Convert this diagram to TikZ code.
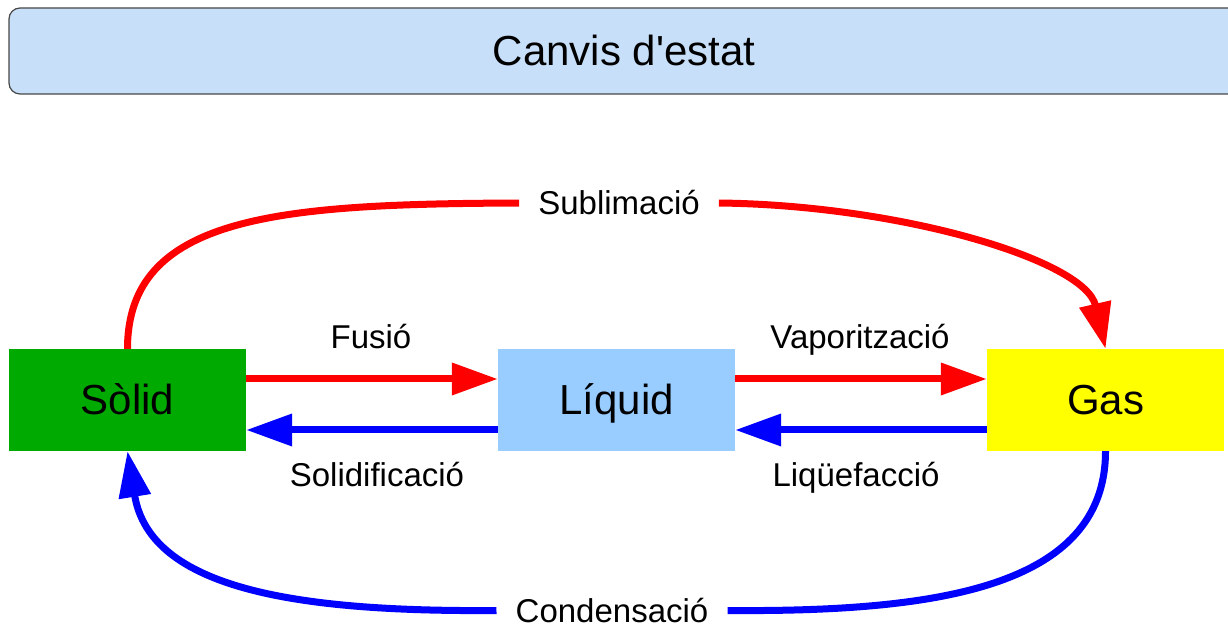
\documentclass[tikz,border=0pt]{standalone}
\usepackage{fontspec}
\setmainfont{Liberation Sans}
\usetikzlibrary{arrows.meta}
\definecolor{gsolid}{RGB}{0,170,0}
\definecolor{bliquid}{RGB}{153,204,255}
\definecolor{ygas}{RGB}{255,255,0}
\definecolor{titlefill}{RGB}{200,223,249}
\definecolor{titleborder}{RGB}{70,70,70}
\tikzset{
  statebox/.style={minimum width=237pt, minimum height=102pt, inner sep=0pt},
  boxtext/.style={anchor=base, font=\fontsize{42}{48}\selectfont},
  lbl/.style={font=\fontsize{33}{38}\selectfont, anchor=base, inner sep=0pt},
  gaplbl/.style={font=\fontsize{33}{38}\selectfont, anchor=base, inner xsep=19pt, inner ysep=0pt},
  redarr/.style={draw=red, line width=7pt, -{Triangle[length=46pt,width=31pt]}},
  bluearr/.style={draw=blue, line width=7pt, -{Triangle[length=46pt,width=31pt]}},
  redline/.style={draw=red, line width=7pt},
  blueline/.style={draw=blue, line width=7pt},
}
\begin{document}
\begin{tikzpicture}[x=1pt,y=1pt]
\useasboundingbox (0,0) rectangle (1228,626);
% title bar
\begin{scope}
\clip (0,0) rectangle (1228,626);
\draw[titleborder, line width=1.2pt, fill=titlefill, rounded corners=11pt] (9,532) rectangle (1250,618);
\end{scope}
\node[font=\fontsize{42}{48}\selectfont, anchor=base] (title) at (624,560) {Canvis d\textquotesingle estat};
% state boxes
\node[statebox, fill=gsolid] (solid) at (127.5,226) {};
\node[statebox, fill=bliquid] (liquid) at (616.5,226) {};
\node[statebox, fill=ygas] (gas) at (1105.5,226) {};
\node[boxtext] (tsolid) at (solid.center |- 0,211) {Sòlid};
\node[boxtext] (tliquid) at (liquid.center |- 0,211) {Líquid};
\node[boxtext] (tgas) at (gas.center |- 0,211) {Gas};
% straight arrows
\draw[redarr] ([yshift=21pt]solid.east) -- ([yshift=21pt]liquid.west);
\draw[redarr] ([yshift=21pt]liquid.east) -- ([yshift=21pt]gas.west);
\draw[bluearr] ([yshift=-30pt]liquid.west) -- ([yshift=-30pt]solid.east);
\draw[bluearr] ([yshift=-30pt]gas.west) -- ([yshift=-30pt]liquid.east);
% labels
\node[lbl] (fus) at (371,277) {Fusió};
\node[lbl] (vap) at (860,277) {Vaporització};
\node[lbl] (sol) at (377,139) {Solidificació};
\node[lbl] (liq) at (856,139) {Liqüefacció};
\node[gaplbl] (sub) at (619,411) {Sublimació};
\node[gaplbl] (con) at (612,3.5) {Condensació};
% curved arrows
\draw[redline] (solid.north) .. controls (127.5,411) and (280,422) .. (sub.west);
\draw[redarr] (sub.east) .. controls (900,421) and (1085,366) .. (gas.north);
\draw[blueline] (gas.south) .. controls (1105.5,36) and (930,14) .. (con.east);
\draw[bluearr] (con.west) .. controls (300,14) and (150,36) .. (solid.south);
\end{tikzpicture}
\end{document}
